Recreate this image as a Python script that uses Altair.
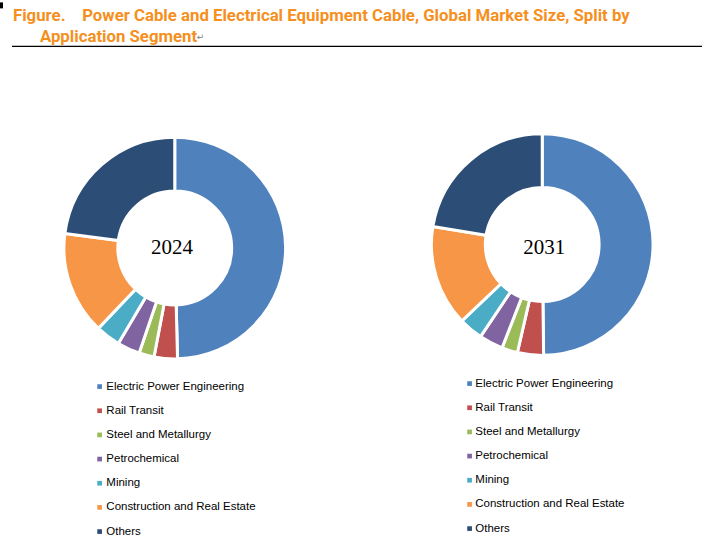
import altair as alt
import pandas as pd

categories = [
    "Electric Power Engineering",
    "Rail Transit",
    "Steel and Metallurgy",
    "Petrochemical",
    "Mining",
    "Construction and Real Estate",
    "Others",
]
colors = ["#4F81BD", "#C0504D", "#9BBB59", "#8064A2", "#4BACC6", "#F79646", "#2C4D75"]
share_2024 = [49.6, 3.4, 2.2, 3.3, 3.6, 15.0, 22.9]
share_2031 = [49.8, 3.8, 2.3, 3.5, 3.5, 14.7, 22.4]
years = ["2024", "2031"]
title_lines = [
    "Figure.\u00a0\u00a0\u00a0 Power Cable and Electrical Equipment Cable, Global Market Size, Split by",
    "Application Segment",
]
return_mark = "\u21b5"

TITLE_COLOR = "#F5901E"
TITLE_FONT = "Roboto"
LEGEND_FONT = "Liberation Sans"


def panel(year, values, cx, cy, tx, ty, lx, ly, label_offset, with_title=False):
    df = pd.DataFrame({"segment": categories, "share": values, "order": list(range(len(categories)))})
    arcs = alt.Chart(df).mark_arc(
        innerRadius=57, outerRadius=111, stroke="white", strokeWidth=3
    ).encode(
        theta=alt.Theta("share:Q", stack=True),
        order=alt.Order("order:Q"),
        color=alt.Color(
            "segment:N",
            scale=alt.Scale(domain=categories, range=colors),
            legend=alt.Legend(
                orient="none", legendX=lx, legendY=ly, title=None,
                symbolType="square", symbolSize=22, symbolStrokeWidth=0,
                labelFont=LEGEND_FONT, labelFontSize=11.5, labelColor="#000000",
                labelOffset=label_offset, rowPadding=11.2, padding=0, labelLimit=400,
            ),
        ),
        x=alt.value(cx),
        y=alt.value(cy),
    )
    label = alt.Chart(pd.DataFrame({"year": [year]})).mark_text(
        font="Liberation Serif", fontSize=21, color="#000000", baseline="alphabetic"
    ).encode(text="year:N", x=alt.value(tx), y=alt.value(ty))
    layers = [arcs, label]
    if with_title:
        tdf = pd.DataFrame({"line": title_lines + [return_mark]})
        t1 = alt.Chart(tdf.iloc[[0]]).mark_text(
            font=TITLE_FONT, fontSize=16.8, fontWeight="bold",
            color=TITLE_COLOR, align="left", baseline="alphabetic"
        ).encode(text="line:N", x=alt.value(13), y=alt.value(18.5))
        t2 = alt.Chart(tdf.iloc[[1]]).mark_text(
            font=TITLE_FONT, fontSize=16.8, fontWeight="bold",
            color=TITLE_COLOR, align="left", baseline="alphabetic"
        ).encode(text="line:N", x=alt.value(40), y=alt.value(39.5))
        t3 = alt.Chart(tdf.iloc[[2]]).mark_text(
            font="DejaVu Sans", fontSize=9, color="#808080", align="left", baseline="alphabetic"
        ).encode(text="line:N", x=alt.value(197), y=alt.value(38))
        rule = alt.Chart(tdf.iloc[[0]]).mark_rule(color="#000000", strokeWidth=1.3).encode(
            x=alt.value(12), x2=alt.value(703), y=alt.value(44)
        )
        mark = alt.Chart(tdf.iloc[[0]]).mark_rule(color="#000000", strokeWidth=3).encode(
            x=alt.value(1.5), y=alt.value(0), y2=alt.value(6)
        )
        layers += [t1, t2, t3, rule, mark]
    return alt.layer(*layers).properties(width=351, height=540)


p1 = panel(years[0], share_2024, 175, 246, 172.2, 251.7, 94, 379, 1, with_title=True)
p2 = panel(years[1], share_2031, 191, 242.5, 193, 252, 112.5, 376, 0)

chart = alt.hconcat(p1, p2, spacing=1, bounds="flush").resolve_legend(color="independent").resolve_scale(
    color="independent", theta="independent"
).properties(padding=0).configure_view(stroke=None)

chart.save("out.html", embed_options={"renderer": "svg", "actions": False})
